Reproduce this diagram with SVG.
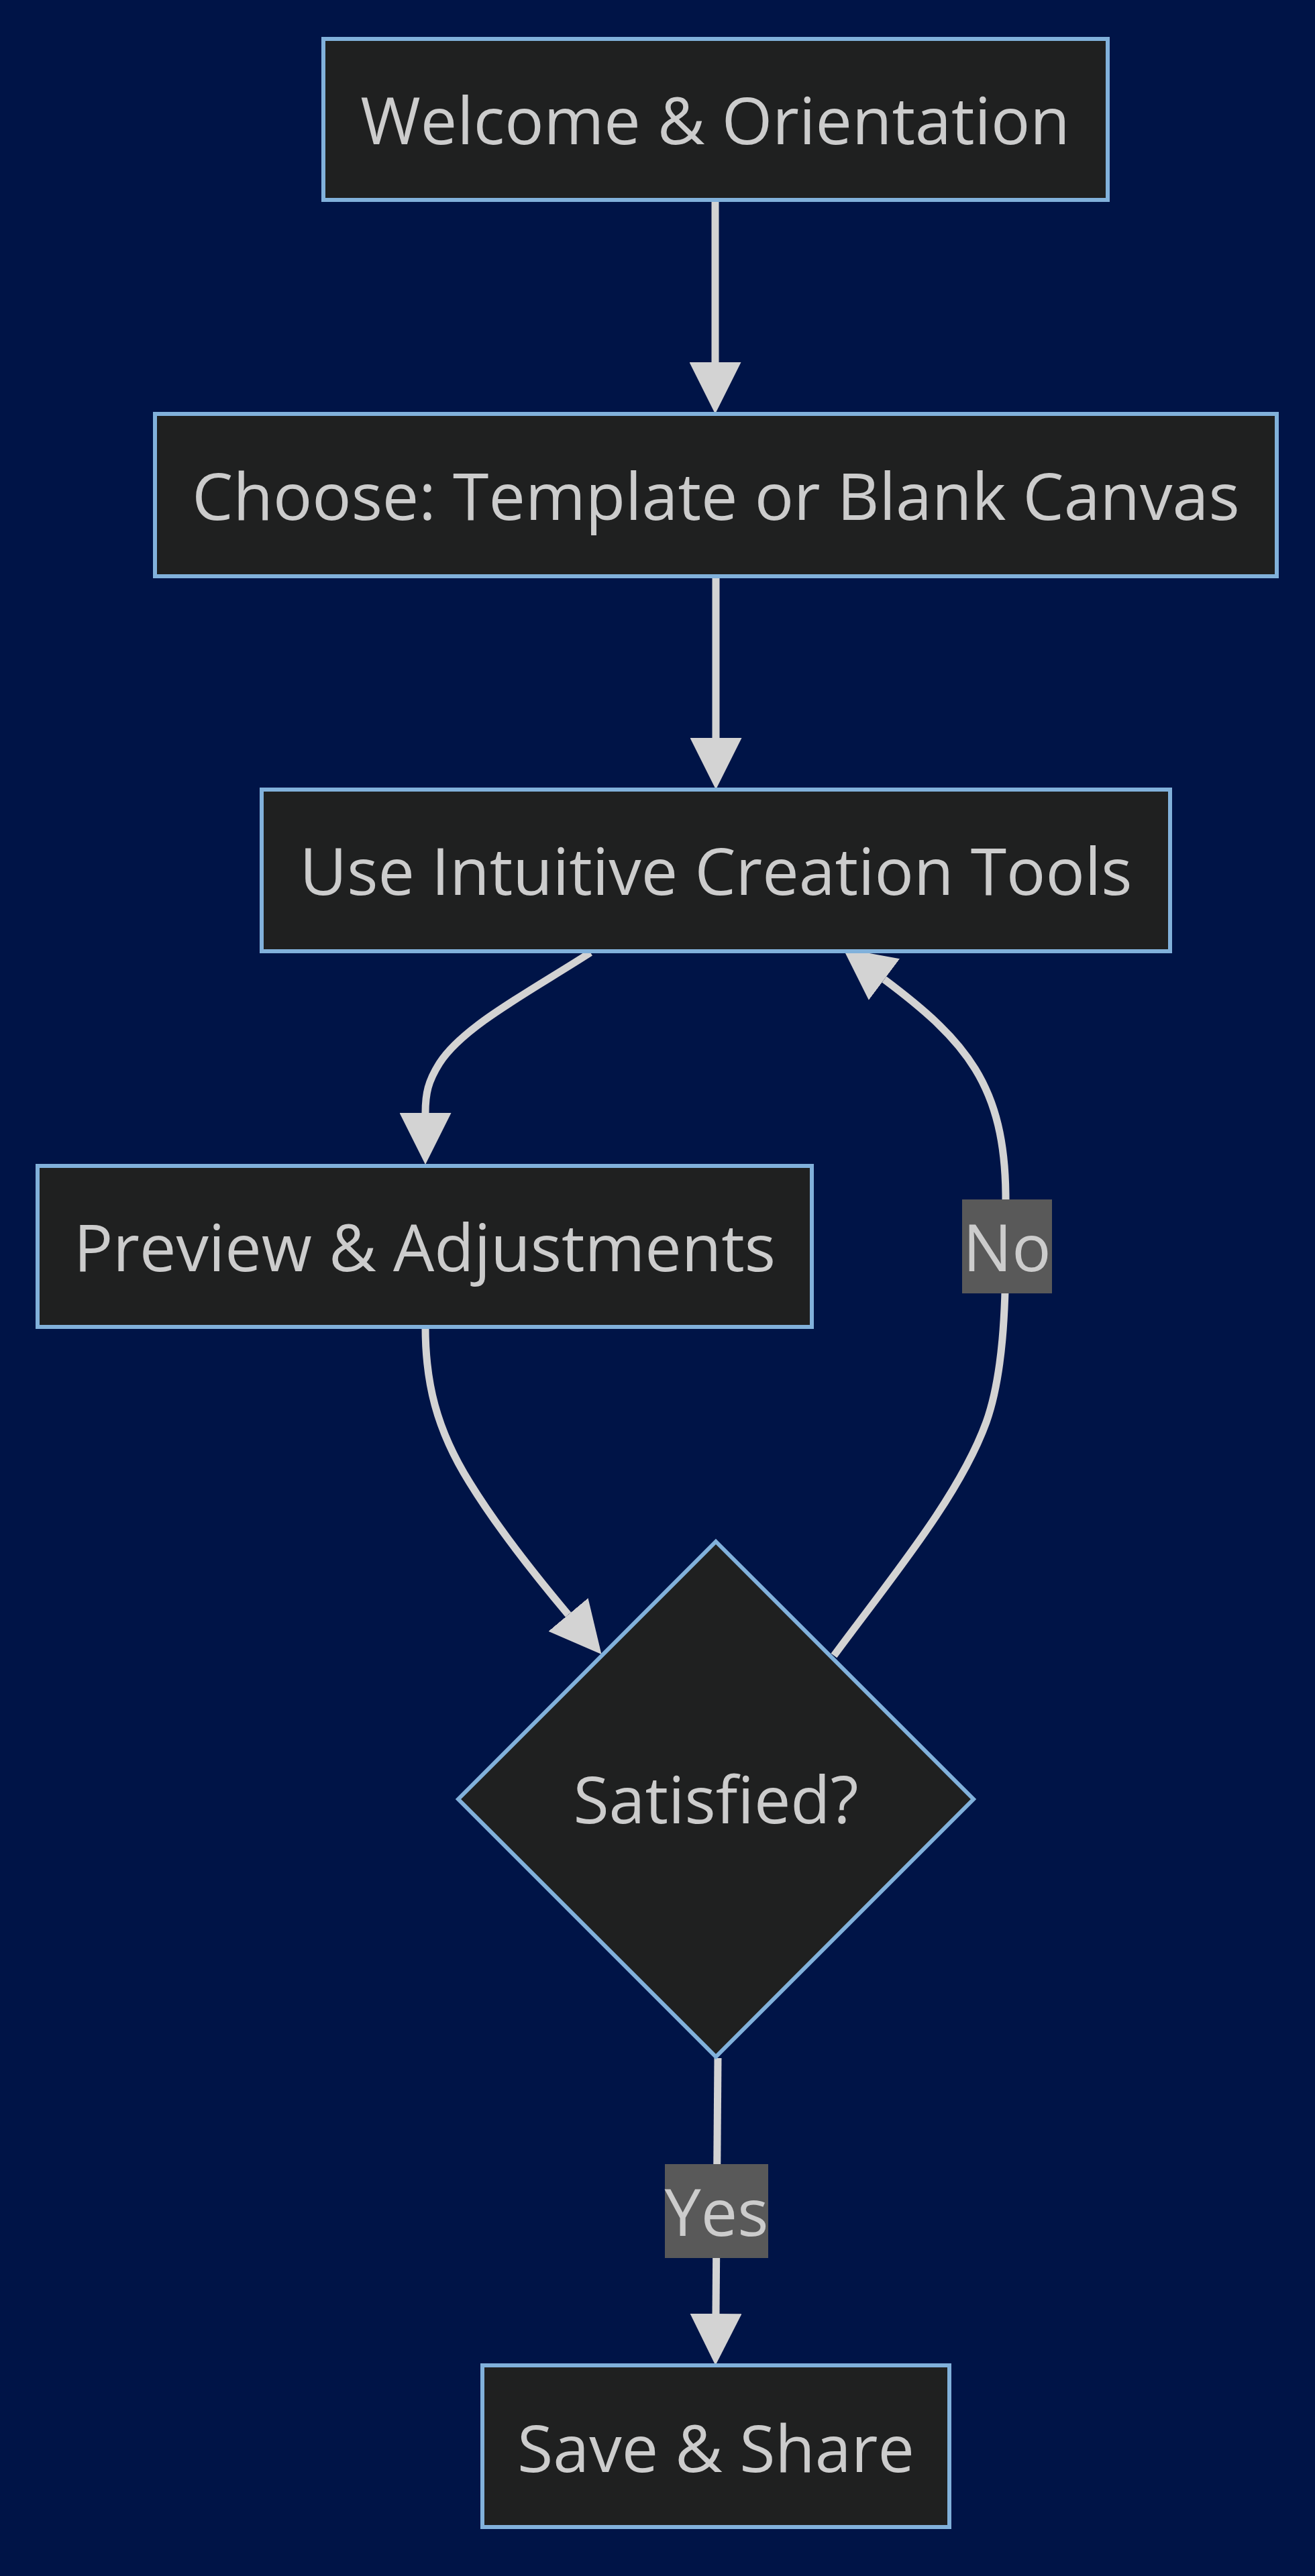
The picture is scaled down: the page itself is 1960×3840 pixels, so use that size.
<svg xmlns="http://www.w3.org/2000/svg" width="1960" height="3840" viewBox="0 0 1960 3840">
<style>
.bg{fill:#001447}
.node rect,.node polygon{fill:#1f2020;stroke:#81b1db;stroke-width:6}
.node text,.elabel text{font-family:"Open Sans","Noto Sans",sans-serif;font-size:97px;fill:#cccccc;text-anchor:middle}
.edge{fill:none;stroke:#d3d3d3;stroke-width:11}
.elabel rect{fill:#595959}
</style>
<defs>
<marker id="arrow" viewBox="0 0 10 10" refX="0" refY="5" markerUnits="userSpaceOnUse" markerWidth="77" markerHeight="77" orient="auto">
<path d="M0,0 L10,5 L0,10 z" fill="#d3d3d3"/>
</marker>
</defs>
<rect class="bg" x="0" y="0" width="1960" height="3840"/>
<g id="connectors">
<path class="edge" d="M1066,299 L1066,540" marker-end="url(#arrow)"/>
<path class="edge" d="M1067,859 L1067,1100" marker-end="url(#arrow)"/>
<path class="edge" d="M880,1420 C790,1478 690,1530 655,1585 C638,1612 634,1630 634,1659" marker-end="url(#arrow)"/>
<path class="edge" d="M634,1978 C634,2060 650,2130 700,2210 C740,2275 795,2345 847,2407" marker-end="url(#arrow)"/>
<path class="edge" d="M1243,2468 C1330,2350 1430,2230 1470,2120 C1495,2050 1499,1950 1499,1858 L1499,1787 C1499,1617 1438,1550 1318,1460" marker-end="url(#arrow)"/>
<path class="edge" d="M1070,3068 L1067,3449" marker-end="url(#arrow)"/>
<g class="elabel" id="label-no"><rect x="1434" y="1788" width="134" height="140"/><text x="1501" y="1895">No</text></g>
<g class="elabel" id="label-yes"><rect x="991" y="3226" width="154" height="140"/><text x="1068" y="3333">Yes</text></g>
</g>
<g class="node" id="welcome"><rect x="482" y="58" width="1169" height="240"/><text x="1066" y="215">Welcome &amp; Orientation</text></g>
<g class="node" id="choose"><rect x="231" y="617" width="1672" height="242"/><text x="1067" y="775">Choose: Template or Blank Canvas</text></g>
<g class="node" id="use"><rect x="390" y="1177" width="1354" height="241"/><text x="1067" y="1334">Use Intuitive Creation Tools</text></g>
<g class="node" id="preview"><rect x="56" y="1738" width="1154" height="240"/><text x="633" y="1895">Preview &amp; Adjustments</text></g>
<g class="node" id="satisfied"><polygon points="1067,2298 1451,2682 1067,3066 683,2682"/><text x="1067" y="2718">Satisfied?</text></g>
<g class="node" id="save"><rect x="719" y="3526" width="696" height="241"/><text x="1067" y="3685">Save &amp; Share</text></g>
</svg>
